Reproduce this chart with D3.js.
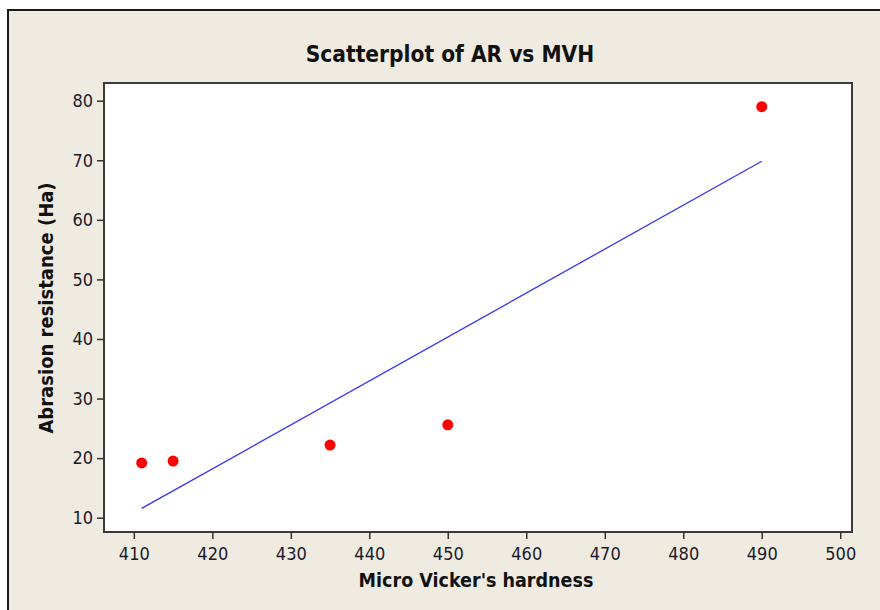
<!DOCTYPE html>
<html>
<head>
<meta charset="utf-8">
<script src="https://cdn.jsdelivr.net/npm/d3@7"></script>
<style>
  html, body { margin: 0; padding: 0; background: #ffffff; }
  svg { display: block; }
  .tick text { font-family: "DejaVu Sans Condensed", "DejaVu Sans", sans-serif; font-size: 18px; fill: #1a1a2a; }
  .tick line { stroke: #333; stroke-width: 1.5; }
</style>
</head>
<body>
<svg id="chart" width="880" height="610"></svg>
<script>
// Micro Vickers hardness (MVH) and abrasion resistance (AR) measurements
const mvh = [411, 415, 435, 450, 490];
const ar  = [19.2, 19.5, 22.2, 25.6, 79.0];

const xTicks = [410, 420, 430, 440, 450, 460, 470, 480, 490, 500];
const yTicks = [10, 20, 30, 40, 50, 60, 70, 80];

const titleText = "Scatterplot of AR vs MVH";
const xLabel = "Micro Vicker's hardness";
const yLabel = "Abrasion resistance (Ha)";

const W = 880, H = 610;
const plot = { left: 104, top: 83, right: 852, bottom: 532 };

const svg = d3.select("#chart");

// Window background with its dark top/left edge
svg.append("rect").attr("x", 8).attr("y", 10).attr("width", W - 8).attr("height", H - 10)
  .attr("fill", "#f0ebe0");
svg.append("path").attr("d", `M8,${H} L8,10 L${W},10`)
  .attr("fill", "none").attr("stroke", "#1a1a1a").attr("stroke-width", 2);

const x = d3.scaleLinear().domain([406.2, 501.5]).range([plot.left, plot.right]);
const y = d3.scaleLinear().domain([7.6, 82.97]).range([plot.bottom, plot.top]);

// Plot area
svg.append("rect")
  .attr("x", plot.left).attr("y", plot.top)
  .attr("width", plot.right - plot.left).attr("height", plot.bottom - plot.top)
  .attr("fill", "#ffffff").attr("stroke", "#3a3a3a").attr("stroke-width", 2);

// Axes
const gx = svg.append("g").attr("transform", `translate(0,${plot.bottom})`)
  .call(d3.axisBottom(x).tickValues(xTicks).tickSize(7).tickSizeOuter(0).tickPadding(8));
gx.select(".domain").remove();

const gy = svg.append("g").attr("transform", `translate(${plot.left},0)`)
  .call(d3.axisLeft(y).tickValues(yTicks).tickSize(7).tickSizeOuter(0).tickPadding(4));
gy.select(".domain").remove();

// Least-squares fitted line through the observations
const n = mvh.length;
const mx = d3.mean(mvh), my = d3.mean(ar);
let sxy = 0, sxx = 0;
for (let i = 0; i < n; i++) {
  sxy += (mvh[i] - mx) * (ar[i] - my);
  sxx += (mvh[i] - mx) * (mvh[i] - mx);
}
const slope = sxy / sxx, intercept = my - slope * mx;
const [x0, x1] = d3.extent(mvh);
svg.append("line")
  .attr("x1", x(x0)).attr("y1", y(intercept + slope * x0))
  .attr("x2", x(x1)).attr("y2", y(intercept + slope * x1))
  .attr("stroke", "#3535f5").attr("stroke-width", 1.3);

// Points
svg.append("g").selectAll("circle")
  .data(mvh.map((v, i) => ({ x: v, y: ar[i] })))
  .join("circle")
  .attr("cx", d => x(d.x)).attr("cy", d => y(d.y))
  .attr("r", 5.5).attr("fill", "#ff0000");

// Title and axis labels
const labelFont = '"DejaVu Sans Condensed", "DejaVu Sans", sans-serif';
svg.append("text").attr("x", 450).attr("y", 62).attr("text-anchor", "middle")
  .attr("font-family", labelFont).attr("font-weight", "bold").attr("font-size", 22.5)
  .attr("fill", "#111").text(titleText);

svg.append("text").attr("x", 476).attr("y", 587).attr("text-anchor", "middle")
  .attr("font-family", labelFont).attr("font-weight", "bold").attr("font-size", 19.5)
  .attr("fill", "#111").text(xLabel);

svg.append("text").attr("transform", "translate(53,308) rotate(-90)").attr("text-anchor", "middle")
  .attr("font-family", labelFont).attr("font-weight", "bold").attr("font-size", 20)
  .attr("fill", "#111").text(yLabel);
</script>
</body>
</html>
